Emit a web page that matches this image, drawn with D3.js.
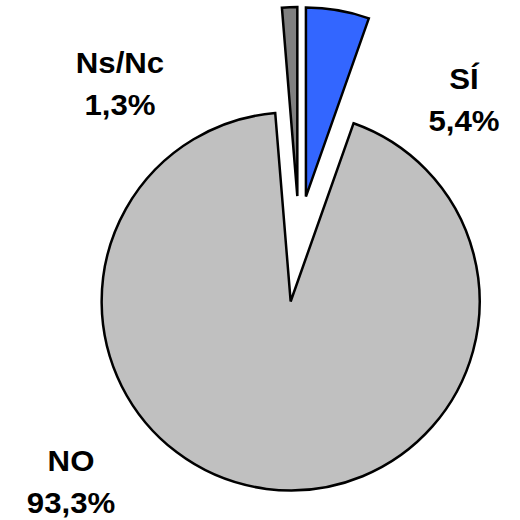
<!DOCTYPE html>
<meta charset="utf-8">
<script src="https://d3js.org/d3.v7.min.js"></script>
<style>
  body { margin: 0; background: #fff; }
</style>
<div id="chart"></div>
<script>

// data
var categories = ["SÍ", "NO", "Ns/Nc"]
var values = [5.4, 93.3, 1.3]
var pctLabels = ["5,4%", "93,3%", "1,3%"]
var colors = ["#3366ff", "#c0c0c0", "#808080"]

var width = 520, height = 520
var radius = 189
var cx = 299, cy = 237
// how far each slice is pulled out of the pie
var explode = [41, 65, 41]
// label anchor (centre x, baseline of first line)
var labelPos = [[464, 89], [71, 471], [120, 73]]

var svg = d3.select("#chart").append("svg")
    .attr("width", width)
    .attr("height", height)

var pie = d3.pie().sort(null).value(function(d) { return d })
var arcs = pie(values)

var arc = d3.arc().innerRadius(0).outerRadius(radius)

var g = svg.append("g").attr("transform", "translate(" + cx + "," + cy + ")")

g.selectAll("path")
  .data(arcs)
  .enter()
  .append("path")
    .attr("d", arc)
    .attr("transform", function(d, i) {
      var a = (d.startAngle + d.endAngle) / 2
      return "translate(" + (Math.sin(a) * explode[i]) + "," + (-Math.cos(a) * explode[i]) + ")"
    })
    .attr("fill", function(d, i) { return colors[i] })
    .attr("stroke", "#000")
    .attr("stroke-width", 2.5)
    .attr("stroke-linejoin", "miter")

// labels
var labels = svg.selectAll("g.lab")
  .data(categories)
  .enter()
  .append("g")
    .attr("class", "lab")
    .attr("transform", function(d, i) { return "translate(" + labelPos[i][0] + "," + labelPos[i][1] + ") scale(1.04,1)" })

labels.append("text")
    .attr("text-anchor", "middle")
    .style("font-family", "'Liberation Sans', Arial, sans-serif")
    .style("font-weight", "bold")
    .style("font-size", "30px")
    .text(function(d) { return d })

labels.append("text")
    .attr("text-anchor", "middle")
    .attr("y", 42)
    .style("font-family", "'Liberation Sans', Arial, sans-serif")
    .style("font-weight", "bold")
    .style("font-size", "30px")
    .text(function(d, i) { return pctLabels[i] })

</script>
